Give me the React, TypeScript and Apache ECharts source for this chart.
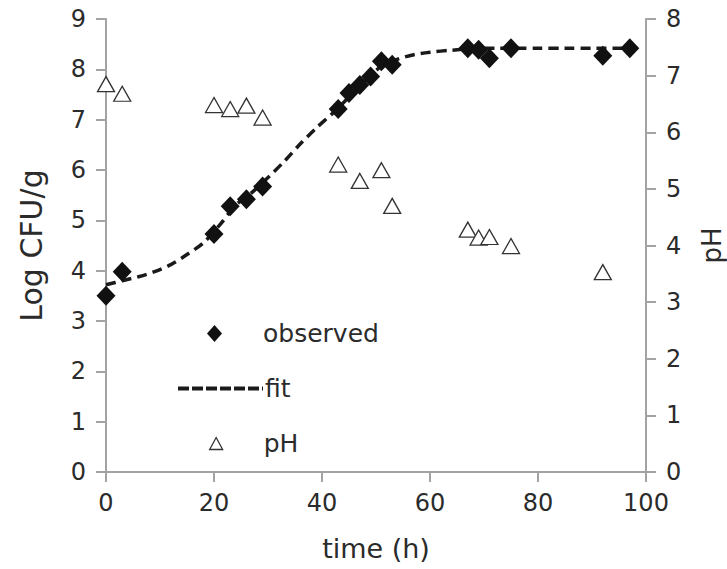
import React, { useEffect, useRef } from "react";
import * as echarts from "echarts";

const xTicks = [0, 20, 40, 60, 80, 100];
const timeObserved = [0, 3, 20, 23, 26, 29, 43, 45, 47, 49, 51, 53, 67, 69, 71, 75, 92, 97];
const logObserved = [3.5, 3.98, 4.73, 5.28, 5.42, 5.67, 7.21, 7.53, 7.69, 7.86, 8.16, 8.09, 8.42, 8.39, 8.22, 8.42, 8.27, 8.42];
const timeFit = [0, 3, 6, 9, 12, 15, 18, 21, 24, 27, 30, 33, 36, 39, 42, 45, 48, 51, 54, 57, 60, 64, 68, 72, 76, 80, 85, 90, 97];
const logFit = [3.72, 3.8, 3.88, 3.98, 4.12, 4.32, 4.55, 4.9, 5.3, 5.55, 5.85, 6.17, 6.52, 6.84, 7.13, 7.45, 7.78, 8.06, 8.2, 8.29, 8.34, 8.38, 8.41, 8.42, 8.42, 8.42, 8.42, 8.42, 8.42];
const timePH = [0, 3, 20, 23, 26, 29, 43, 47, 51, 53, 67, 69, 71, 75, 92];
const valuesPH = [6.85, 6.68, 6.48, 6.41, 6.47, 6.26, 5.43, 5.14, 5.33, 4.7, 4.28, 4.14, 4.15, 3.99, 3.53];

const FONT = "DejaVu Sans";
const TEXT = "#2b2b2b";
const AXIS = "#a3a3a3";

export default function App() {
  const ref = useRef<HTMLDivElement>(null);
  useEffect(() => {
    if (!ref.current) return;
    const chart = echarts.init(ref.current, null, { renderer: "svg" });
    const axisCommon = {
      axisLine: { show: true, lineStyle: { color: AXIS, width: 2 } },
      axisTick: { show: true, length: 10, inside: false, lineStyle: { color: AXIS, width: 2 } },
      splitLine: { show: false },
      axisLabel: { color: TEXT, fontFamily: FONT, fontSize: 24, margin: 19 },
    };
    chart.setOption({
      animation: false,
      backgroundColor: "#ffffff",
      grid: { left: 106, right: 81, top: 19, bottom: 97, containLabel: false, outerBoundsMode: "none" },
      xAxis: {
        type: "value",
        min: 0,
        max: 100,
        interval: 20,
        name: "time (h)",
        nameLocation: "middle",
        nameGap: 63,
        nameTextStyle: { color: TEXT, fontFamily: FONT, fontSize: 27 },
        ...axisCommon,
        axisLabel: { ...axisCommon.axisLabel, formatter: (v: number) => (xTicks.includes(v) ? String(v) : "") },
      },
      yAxis: [
        {
          type: "value",
          min: 0,
          max: 9,
          interval: 1,
          name: "Log CFU/g",
          nameLocation: "middle",
          nameRotate: 90,
          nameGap: 60,
          nameTextStyle: { color: TEXT, fontFamily: FONT, fontSize: 30 },
          ...axisCommon,
          axisLabel: { ...axisCommon.axisLabel, margin: 20 },
        },
        {
          type: "value",
          position: "right",
          min: 0,
          max: 8,
          interval: 1,
          name: "pH",
          nameLocation: "middle",
          nameRotate: 90,
          nameGap: 53,
          nameTextStyle: { color: TEXT, fontFamily: FONT, fontSize: 26 },
          ...axisCommon,
          axisLabel: { ...axisCommon.axisLabel, margin: 20 },
        },
      ],
      legend: [
        {
          data: [{ name: "observed", icon: "diamond" }],
          left: 207,
          top: 321,
          padding: 0,
          itemWidth: 15,
          itemHeight: 17,
          textStyle: { color: TEXT, fontFamily: FONT, fontSize: 25, padding: [0, 0, 0, 36] },
          itemStyle: { color: "#111" },
        },
        {
          data: ["fit"],
          left: 176,
          top: 376,
          padding: 0,
          itemWidth: 85,
          itemHeight: 14,
          textStyle: { color: TEXT, fontFamily: FONT, fontSize: 25, padding: [0, 0, 0, -3] },
          itemStyle: { color: "transparent", borderWidth: 0, opacity: 0 },
          lineStyle: { color: "#1a1a1a", width: 4, type: [11, 3] },
        },
        {
          data: [{ name: "pH", icon: "triangle" }],
          left: 209,
          top: 431,
          padding: 0,
          itemWidth: 13,
          itemHeight: 12,
          textStyle: { color: TEXT, fontFamily: FONT, fontSize: 25, padding: [0, 0, 0, 36] },
          itemStyle: { color: "#ffffff", borderColor: "#333", borderWidth: 1.3 },
        },
      ],
      series: [
        {
          name: "fit",
          type: "line",
          yAxisIndex: 0,
          data: timeFit.map((t, i) => [t, logFit[i]]),
          smooth: 0.3,
          symbol: "none",
          showSymbol: false,
          lineStyle: { color: "#1a1a1a", width: 3.5, type: [10, 6] },
          itemStyle: { color: "#1a1a1a" },
          z: 2,
        },
        {
          name: "observed",
          type: "scatter",
          yAxisIndex: 0,
          data: timeObserved.map((t, i) => [t, logObserved[i]]),
          symbol: "diamond",
          symbolSize: [19, 20],
          itemStyle: { color: "#111111", opacity: 1 },
          z: 3,
        },
        {
          name: "pH",
          type: "scatter",
          yAxisIndex: 1,
          data: timePH.map((t, i) => [t, valuesPH[i]]),
          symbol: "triangle",
          symbolSize: [17, 15],
          itemStyle: { color: "#ffffff", borderColor: "#333333", borderWidth: 1.3, opacity: 1 },
          z: 4,
        },
      ],
    });
    return () => chart.dispose();
  }, []);
  return <div ref={ref} style={{ width: 727, height: 569, position: "absolute", left: 0, top: 0 }} />;
}
